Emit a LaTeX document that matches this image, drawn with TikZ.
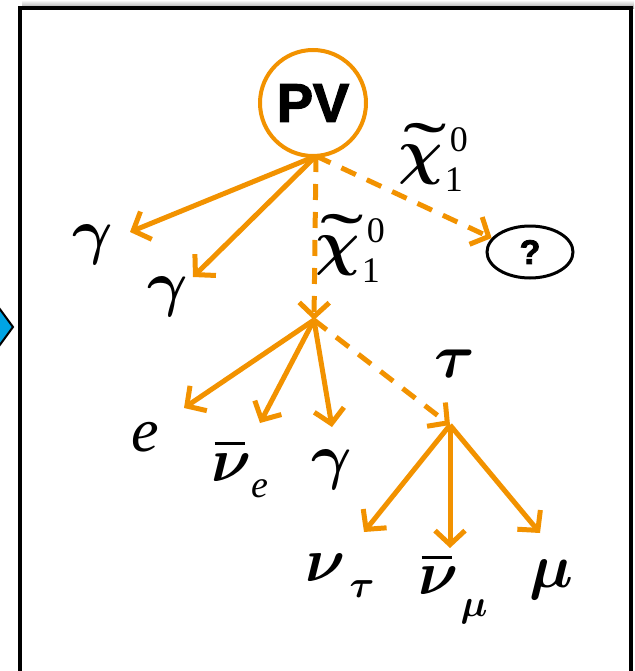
\RequirePackage{fix-cm}
\documentclass[tikz,border=0pt]{standalone}
\usepackage{fontspec}
\usepackage{graphicx}
\setmainfont{Liberation Serif}
\setsansfont{Liberation Sans}
\newfontfamily\pvfont[FakeBold=2.5]{Liberation Sans}
\usetikzlibrary{arrows.meta,shapes.geometric}
\definecolor{orng}{RGB}{242,146,0}
\definecolor{dblue}{RGB}{0,164,228}
\newcommand{\ssz}{\fontsize{38}{40}\selectfont}
\newcommand{\dsz}{\fontsize{36}{38}\selectfont}
\newcommand{\gk}[1]{{\boldmath$#1$}}
\newcommand{\chiz}{\mbox{\rlap{\hspace{5pt}\raisebox{-1pt}{\scalebox{2.1}[1.2]{˜}}}\gk{\chi}\hspace{2pt}\raisebox{-19pt}{\dsz 1}\hspace{-13pt}\raisebox{21pt}{\dsz 0}}}
\newcommand{\barnu}{\mbox{\rlap{\hspace{3pt}\rule[36pt]{30pt}{3pt}}\gk{\nu}}}
\begin{document}
\begin{tikzpicture}[x=1pt,y=-1pt,
  decay/.style={draw=orng,line width=5pt,-{Straight Barb[length=14pt,width=30pt]}},
  dashdecay/.style={decay,dash pattern=on 16pt off 12pt},
  lbl/.style={inner sep=0pt,font=\fontsize{62}{66}\selectfont},
  pv/.style={circle,draw=orng,line width=4pt,fill=white,minimum size=106pt,inner sep=0pt,font=\fontsize{54}{56}\selectfont\pvfont\bfseries},
  qm/.style={ellipse,draw=black,line width=3pt,minimum width=86pt,minimum height=52pt,inner sep=0pt,font=\fontsize{34}{36}\selectfont\pvfont\bfseries}
]
\useasboundingbox (0,0) rectangle (634,671);
% top shadow
\shade[top color=white,bottom color=black!40] (22,0) rectangle (634,9);
% frame
\draw[line width=3.5pt] (20,8) rectangle (631,700);
% blue diamond on the left
\draw[fill=dblue,line width=2pt] (-20,282) -- (13,327) -- (-20,372) -- cycle;

% vertices
\coordinate (v1) at (316,156);
\coordinate (v2) at (314,320);
\coordinate (v3) at (450,425);
% arrow end points
\coordinate (g1) at (130,232);
\coordinate (g2) at (193,277);
\coordinate (e1) at (184,408);
\coordinate (ne) at (260,423);
\coordinate (g3) at (332,427);
\coordinate (nt) at (364,532);
\coordinate (nm) at (450,548);
\coordinate (mu) at (540,533);

% arrows
\draw[decay] (v1) -- (g1);
\draw[decay] (v1) -- (g2);
\draw[dashdecay] (v1) -- (v2);
\draw[decay] (v2) -- (e1);
\draw[decay] (v2) -- (ne);
\draw[decay] (v2) -- (g3);
\draw[dashdecay] (v2) -- (v3);
\draw[decay] (v3) -- (nt);
\draw[decay] (v3) -- (nm);
\draw[decay] (v3) -- (mu);

% PV circle and ? ellipse
\node[pv] (pvn) at (313,103) {PV};
\node[qm] (q) at (530,252) {?};
\draw[dashdecay] (v1) -- (q.160);

% labels
\node[lbl] (lg1) at (93,245) {\gk{\gamma}};
\node[lbl] (lg2) at (168,297) {\gk{\gamma}};
\node[lbl] (lchi1) at (433,157) {\chiz};
\node[lbl] (lchi2) at (350,248) {\chiz};
\node[lbl] (le) at (145,437) {\itshape e};
\node[lbl] (lne) at (240,470) {\barnu\raisebox{-16pt}{\ssz\itshape e}};
\node[lbl] (lg3) at (332,470) {\gk{\gamma}};
\node[lbl] (ltau) at (455,364) {\gk{\tau}};
\node[lbl] (lnt) at (340,576) {\gk{\nu}\hspace{4pt}\raisebox{-16pt}{\ssz\gk{\tau}}};
\node[lbl] (lnm) at (453,590) {\barnu\hspace{2pt}\raisebox{-22pt}{\ssz\gk{\mu}}};
\node[lbl] (lmu) at (551,580) {\gk{\mu}};
\end{tikzpicture}
\end{document}
